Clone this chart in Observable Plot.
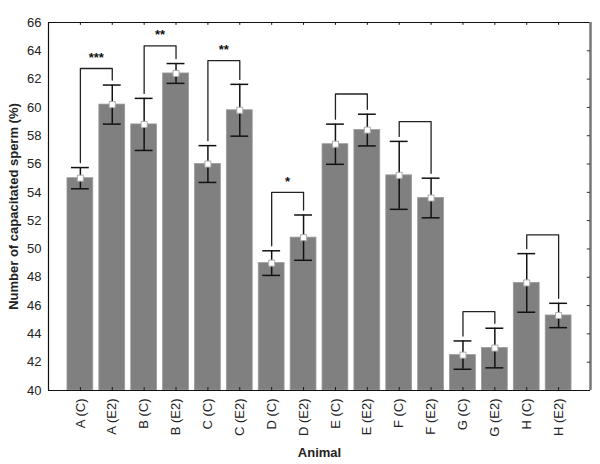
<!DOCTYPE html>
<html>
<head>
<meta charset="utf-8">
<script src="https://cdn.jsdelivr.net/npm/d3@7"></script>
<script src="https://cdn.jsdelivr.net/npm/@observablehq/plot@0.6"></script>
<style>
  html, body { margin: 0; padding: 0; background: #fff; }
  #chart svg { font-family: "Liberation Sans", Arial, sans-serif; }
  #chart [aria-label="y-axis label"], #chart [aria-label="x-axis label"] { font-weight: bold; }
</style>
</head>
<body>
<div id="chart"></div>
<script>
const categories = ["A (C)", "A (E2)", "B (C)", "B (E2)", "C (C)", "C (E2)", "D (C)", "D (E2)",
                    "E (C)", "E (E2)", "F (C)", "F (E2)", "G (C)", "G (E2)", "H (C)", "H (E2)"];
const means  = [55.0, 60.2, 58.8, 62.4, 56.0, 59.8, 49.0, 50.8, 57.4, 58.4, 55.2, 53.6, 42.5, 43.0, 47.6, 45.3];
const errors = [0.75, 1.38, 1.84, 0.7, 1.3, 1.83, 0.87, 1.6, 1.42, 1.12, 2.4, 1.4, 1.0, 1.4, 2.07, 0.86];
// brackets: index of left bar, bracket top value, significance label
const bracketLeft  = [0, 2, 4, 6, 8, 10, 12, 14];
const bracketTop   = [62.75, 64.35, 63.3, 54.0, 60.95, 59.0, 45.57, 51.0];
const bracketStars = ["***", "**", "**", "*", "", "", "", ""];
const yTicks = [40, 42, 44, 46, 48, 50, 52, 54, 56, 58, 60, 62, 64, 66];

const data = categories.map((c, i) => ({i, c, m: means[i], lo: means[i] - errors[i], hi: means[i] + errors[i]}));
const legGap = 0.35;
const bracketPts = [];
const bracketLabels = [];
bracketLeft.forEach((l, k) => {
  const r = l + 1;
  bracketPts.push({k, x: l, y: data[l].hi + legGap});
  bracketPts.push({k, x: l, y: bracketTop[k]});
  bracketPts.push({k, x: r, y: bracketTop[k]});
  bracketPts.push({k, x: r, y: data[r].hi + legGap});
  if (bracketStars[k]) bracketLabels.push({x: l + 0.5, y: bracketTop[k], t: bracketStars[k]});
});

const hw = 0.405, cap = 0.28;
const idx = categories.map((c, i) => i);

const chart = Plot.plot({
  width: 600,
  height: 464,
  marginLeft: 48,
  marginRight: 10,
  marginTop: 22,
  marginBottom: 74,
  style: {fontSize: "13px", color: "#222", background: "#fff"},
  x: {type: "linear", domain: [-1, 16]},
  y: {domain: [40, 66]},
  marks: [
    Plot.rectY(data, {x1: d => d.i - hw, x2: d => d.i + hw, y1: 40, y2: "m", fill: "#808080", stroke: "#9a9a9a", strokeWidth: 0.8}),
    Plot.ruleX(data, {x: "i", y1: "lo", y2: "hi", stroke: "#111", strokeWidth: 1.5}),
    Plot.ruleY(data, {x1: d => d.i - cap, x2: d => d.i + cap, y: "hi", stroke: "#111", strokeWidth: 1.5}),
    Plot.ruleY(data, {x1: d => d.i - cap, x2: d => d.i + cap, y: "lo", stroke: "#111", strokeWidth: 1.5}),
    Plot.dot(data, {x: "i", y: "m", symbol: "square", r: 3.4, fill: "#fff", stroke: "#aaa", strokeWidth: 1}),
    Plot.line(bracketPts, {x: "x", y: "y", z: "k", stroke: "#222", strokeWidth: 1.3, curve: "linear"}),
    Plot.text(bracketLabels, {x: "x", y: "y", text: "t", dy: -11, fontSize: 13, fontWeight: "bold", fill: "#111"}),
    // frame
    Plot.ruleY([66], {stroke: "#111", strokeWidth: 1.2}),
    Plot.ruleY([40], {stroke: "#111", strokeWidth: 1.2}),
    Plot.ruleX([-1], {stroke: "#111", strokeWidth: 1.2}),
    Plot.ruleX([16], {stroke: "#777", strokeWidth: 2.5}),
    // inner ticks on top, bottom, right
    Plot.ruleX(idx, {x: d => d, y1: 66, y2: 65.8, stroke: "#111"}),
    Plot.ruleX(idx, {x: d => d, y1: 40, y2: 40.2, stroke: "#111"}),
    Plot.ruleY(yTicks.slice(1, -1), {y: d => d, x1: 16, x2: 15.9, stroke: "#333"}),
    Plot.axisY({ticks: yTicks, tickSize: 0, tickPadding: 7, label: "Number of capacitated sperm (%)", labelAnchor: "center", labelOffset: 40, labelArrow: "none"}),
    Plot.axisX({ticks: idx, tickFormat: i => categories[i], tickRotate: -90, tickSize: 0, tickPadding: 8, label: "Animal", labelAnchor: "center", labelOffset: 66, labelArrow: "none"})
  ]
});
document.getElementById("chart").appendChild(chart);
</script>
</body>
</html>
